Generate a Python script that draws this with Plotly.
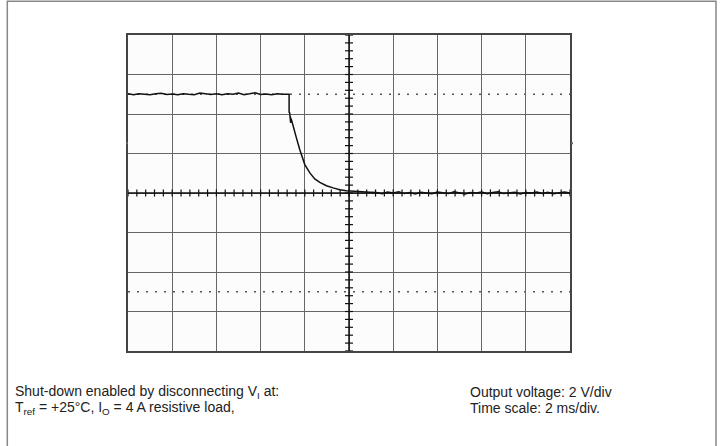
import plotly.graph_objects as go

# ---- data (time in ms, output voltage in V) ----
t_flat = [0.00, 0.25, 0.50, 0.75, 1.00, 1.25, 1.50, 1.75, 2.00, 2.25,
          2.50, 2.75, 3.00, 3.25, 3.50, 3.75, 4.00, 4.25, 4.50, 4.75,
          5.00, 5.25, 5.50, 5.75, 6.00, 6.25, 6.50, 6.75, 7.00, 7.28]
v_flat = [5.02, 4.98, 5.03, 5.00, 4.97, 5.02, 5.05, 4.99, 5.01, 4.98,
          5.03, 5.00, 4.98, 5.06, 5.01, 4.99, 5.02, 4.97, 5.03, 5.00,
          5.06, 4.98, 5.02, 5.07, 4.99, 5.01, 4.98, 5.02, 5.00, 4.99]
t_fall = [7.29, 7.29, 7.33, 7.31, 7.36, 7.34, 7.40, 7.47, 7.62, 7.77,
          8.00, 8.23, 8.45, 8.68, 8.98, 9.28, 9.58, 9.88, 10.34, 10.94]
v_fall = [5.00, 4.06, 3.80, 4.10, 3.55, 3.85, 3.70, 3.38, 2.79, 2.20,
          1.44, 1.02, 0.71, 0.54, 0.37, 0.26, 0.17, 0.12, 0.07, 0.04]
t_tail = [11.25, 11.50, 11.75, 12.00, 12.25, 12.50, 12.75, 13.00, 13.25, 13.50,
          13.75, 14.00, 14.25, 14.50, 14.75, 15.00, 15.25, 15.50, 15.75, 16.00,
          16.25, 16.50, 16.75, 17.00, 17.25, 17.50, 17.75, 18.00, 18.25, 18.50,
          18.75, 19.00, 19.25, 19.50, 19.75, 20.00]
v_tail = [0.02, -0.04, 0.05, 0.00, 0.06, -0.03, 0.03, -0.05, 0.04, 0.01,
          -0.04, 0.05, 0.00, -0.03, 0.06, 0.02, -0.05, 0.03, 0.00, 0.05,
          -0.04, 0.02, 0.06, -0.03, 0.01, 0.04, -0.05, 0.03, 0.00, 0.05,
          -0.02, 0.04, -0.04, 0.02, 0.05, 0.00]

t_ms = t_flat + t_fall + t_tail
v_out = v_flat + v_fall + v_tail

x_range = [0, 20]      # 10 div x 2 ms/div
y_range = [-8, 8]      # 8 div x 2 V/div
x_div = 2.0
y_div = 2.0

caption_left = ["Shut-down enabled by disconnecting V<sub>I</sub> at:",
                "T<sub>ref</sub> = +25°C, I<sub>O</sub> = 4 A resistive load,"]
caption_right = ["Output voltage: 2 V/div",
                 "Time scale: 2 ms/div."]

# ---- figure ----
W, H = 720, 446
L, R, T, B = 128, 150, 35, 95
pw, ph = W - L - R, H - T - B

def px_x(p):
    return (p - L) / pw

def px_y(p):
    return (H - B - p) / ph

fig = go.Figure()
fig.add_trace(go.Scatter(x=t_ms, y=v_out, mode="lines",
                         line=dict(color="#111111", width=1.5),
                         hoverinfo="skip", showlegend=False))

shapes = []
# dotted reference lines at +/-2.5 div
for yv in (2.5 * y_div, -2.5 * y_div):
    shapes.append(dict(type="line", xref="x", yref="y", x0=x_range[0], x1=x_range[1],
                       y0=yv, y1=yv, line=dict(color="#555555", width=1.4, dash="2px,7px"),
                       layer="below"))
# center axes
xc = (x_range[0] + x_range[1]) / 2
yc = 0
shapes.append(dict(type="line", xref="x", yref="y", x0=xc, x1=xc, y0=y_range[0], y1=y_range[1],
                   line=dict(color="#111111", width=1.5)))
shapes.append(dict(type="line", xref="x", yref="y", x0=x_range[0], x1=x_range[1], y0=yc, y1=yc,
                   line=dict(color="#111111", width=1.5)))
# minor ticks every 0.2 div
tx = 4.0 / pw * (x_range[1] - x_range[0])
ty = 3.6 / ph * (y_range[1] - y_range[0])
for i in range(0, 51):
    xv = x_range[0] + i * 0.2 * x_div
    shapes.append(dict(type="line", xref="x", yref="y", x0=xv, x1=xv, y0=-ty, y1=ty,
                       line=dict(color="#111111", width=1.2)))
for i in range(0, 41):
    yv = y_range[0] + i * 0.2 * y_div
    shapes.append(dict(type="line", xref="x", yref="y", x0=xc - tx, x1=xc + tx, y0=yv, y1=yv,
                       line=dict(color="#111111", width=1.2)))
# small edge markers
for xp0, xp1 in ((126, 128), (571, 573)):
    shapes.append(dict(type="line", xref="paper", yref="paper", x0=px_x(xp0), x1=px_x(xp1),
                       y0=px_y(143.3), y1=px_y(143.3), line=dict(color="#666666", width=2)))
# outer frame
shapes.append(dict(type="rect", xref="paper", yref="paper", x0=px_x(7.3), x1=px_x(716),
                   y0=px_y(460), y1=px_y(1.3), line=dict(color="#888888", width=1.5),
                   layer="below"))

FONT = dict(family="Liberation Sans, Arial, sans-serif", size=14, color="#222222")
annotations = []
for i, txt in enumerate(caption_left):
    annotations.append(dict(text=txt, xref="paper", yref="paper", x=px_x(13), y=px_y(392 + 15.5 * i),
                            xanchor="left", yanchor="middle", showarrow=False, font=FONT))
for i, txt in enumerate(caption_right):
    annotations.append(dict(text=txt, xref="paper", yref="paper", x=px_x(468), y=px_y(392 + 15.5 * i),
                            xanchor="left", yanchor="middle", showarrow=False, font=FONT))

axis_common = dict(showticklabels=False, ticks="", showline=True, mirror=True,
                   linecolor="#444444", linewidth=1.5, showgrid=True, gridcolor="#666666",
                   gridwidth=1.2, zeroline=False, fixedrange=True)
fig.update_layout(
    width=W, height=H,
    margin=dict(l=L, r=R, t=T, b=B),
    paper_bgcolor="white", plot_bgcolor="#fcfcfc",
    xaxis=dict(range=x_range, dtick=x_div, tick0=0, **axis_common),
    yaxis=dict(range=y_range, dtick=y_div, tick0=0, **axis_common),
    shapes=shapes, annotations=annotations, showlegend=False,
)
fig.write_html("out.html", config={"displayModeBar": False},
               post_script="document.body.style.margin='0';")
